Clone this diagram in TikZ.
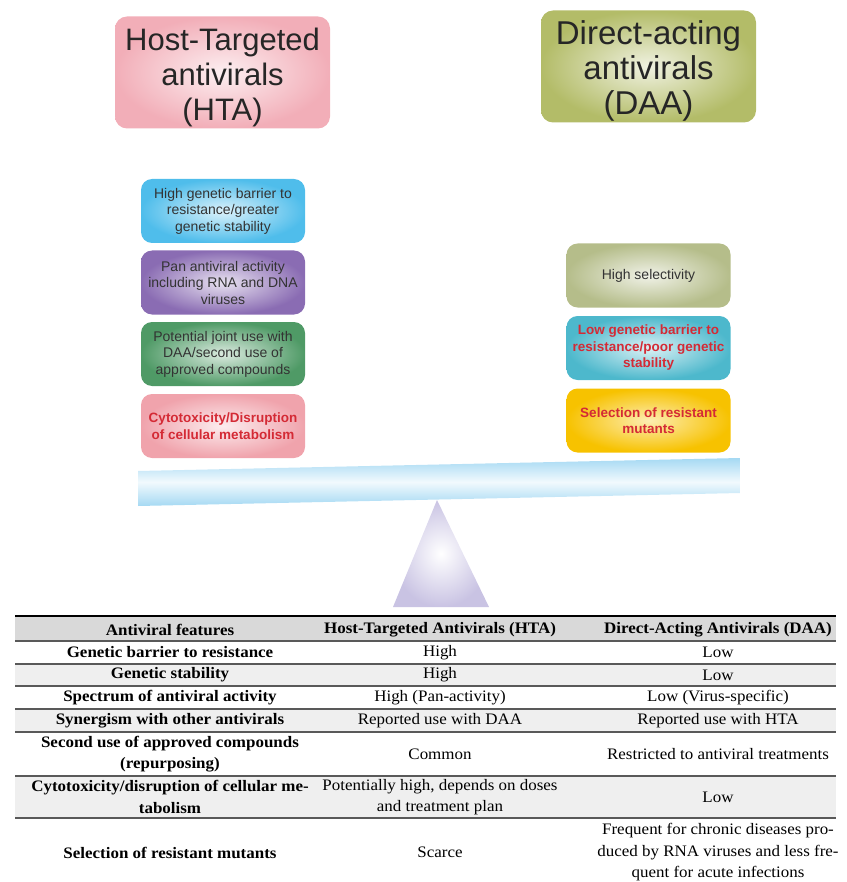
\documentclass[tikz,border=0pt]{standalone}
\usepackage{fontspec}
\setmainfont{Liberation Serif}[FakeStretch=1.06]
\setsansfont{Liberation Sans}
\definecolor{htapink}{HTML}{F2AEB8}
\definecolor{daaolive}{HTML}{B3BC68}
\definecolor{boxblue}{HTML}{4FBDEB}
\definecolor{boxpurple}{HTML}{8A6CB3}
\definecolor{boxgreen}{HTML}{4F9A66}
\definecolor{boxpink}{HTML}{F0A3AC}
\definecolor{boxolive}{HTML}{B5BD8A}
\definecolor{boxteal}{HTML}{4DB8CC}
\definecolor{boxyellow}{HTML}{F7C200}
\definecolor{redtext}{HTML}{D42A35}
\definecolor{beamblue}{HTML}{A5D9F3}
\definecolor{pivotcolor}{HTML}{C9C3E3}
\definecolor{headgray}{HTML}{D9D9D9}
\definecolor{rowgray}{HTML}{EFEFEF}
\tikzset{
    % --- ESTILOS ---
    title_box/.style={rounded corners=12pt, minimum width=215pt, minimum height=112pt},
    title_text/.style={align=center, text=black!85, inner sep=0pt,
                       font=\sffamily\fontsize{31}{35}\selectfont},
    feat_box/.style={rounded corners=11pt, minimum width=164pt, minimum height=64pt,
                     align=center, text=black!80, inner sep=2pt,
                     font=\sffamily\fontsize{14}{16.5}\selectfont},
    red_text/.style={text=redtext, font=\sffamily\bfseries\fontsize{13.5}{16.5}\selectfont},
    % tabla
    cell/.style={align=center, inner sep=0pt, font=\fontsize{16}{21.5}\selectfont},
    head_cell/.style={cell, font=\bfseries\fontsize{16}{21.5}\selectfont},
    top_rule/.style={line width=2.5pt, black},
    row_rule/.style={line width=1.1pt, black!65}
}

\begin{document}
\begin{tikzpicture}[x=1pt,y=-1pt]
    \useasboundingbox (0,0) rectangle (846,882);

    % titulos
    \node[title_box, inner color=htapink!20!white, outer color=htapink] (hta) at (222.5,72.5) {};
    \node[title_text] (hta_text) at ([yshift=-5pt]hta.center) {Host-Targeted\\antivirals\\(HTA)};
    \node[title_box, inner color=daaolive!20!white, outer color=daaolive] (daa) at (648.5,66.5) {};
    \node[title_text, font=\sffamily\fontsize{33}{35}\selectfont] (daa_text) at ([yshift=-4pt]daa.center)
        {Direct-acting\\antivirals\\(DAA)};

    % cajas HTA
    \node[feat_box, inner color=boxblue!20!white, outer color=boxblue] (hta1) at (223,211)
        {High genetic barrier to\\resistance/greater\\genetic stability};
    \node[feat_box, inner color=boxpurple!20!white, outer color=boxpurple] (hta2) at (223,282.5)
        {Pan antiviral activity\\including RNA and DNA\\viruses};
    \node[feat_box, inner color=boxgreen!20!white, outer color=boxgreen] (hta3) at (223,354)
        {Potential joint use with\\DAA/second use of\\approved compounds};
    \node[feat_box, red_text, inner color=boxpink!20!white, outer color=boxpink] (hta4) at (223,426)
        {Cytotoxicity/Disruption\\of cellular metabolism};

    % cajas DAA
    \node[feat_box, inner color=boxolive!20!white, outer color=boxolive] (daa1) at (648.5,275.5)
        {High selectivity};
    \node[feat_box, red_text, inner color=boxteal!20!white, outer color=boxteal] (daa2) at (648.5,348)
        {Low genetic barrier to\\resistance/poor genetic\\stability};
    \node[feat_box, red_text, inner color=boxyellow!30!white, outer color=boxyellow] (daa3) at (648.5,420.5)
        {Selection of resistant\\mutants};

    % balanza
    \shade[inner color=white, outer color=pivotcolor] (437,500) -- (489,607) -- (393,607) -- cycle;
    \shade[top color=beamblue, bottom color=beamblue, middle color=beamblue!15!white]
        (138,471) -- (740,458) -- (740,493) -- (138,506) -- cycle;

    % tabla: fondos
    \fill[headgray] (15,617) rectangle (836,641);
    \fill[rowgray] (15,664) rectangle (836,686);
    \fill[rowgray] (15,709) rectangle (836,732);
    \fill[rowgray] (15,776) rectangle (836,818);

    \draw[top_rule] (15,616) -- (836,616);
    \foreach \y in {641,664,686,709,732,776,818}
        \draw[row_rule] (15,\y) -- (836,\y);

    \node[head_cell] (h1) at (170,630) {Antiviral features};
    \node[head_cell] (h2) at (440,630) {Host-Targeted Antivirals (HTA)};
    \node[head_cell] (h3) at (718,630) {Direct-Acting Antivirals (DAA)};

    \node[head_cell] (r1a) at (170,652.5) {Genetic barrier to resistance};
    \node[cell] (r1b) at (440,652.5) {High};
    \node[cell] (r1c) at (718,652.5) {Low};

    \node[head_cell] (r2a) at (170,675) {Genetic stability};
    \node[cell] (r2b) at (440,675) {High};
    \node[cell] (r2c) at (718,675) {Low};

    \node[head_cell] (r3a) at (170,697.5) {Spectrum of antiviral activity};
    \node[cell] (r3b) at (440,697.5) {High (Pan-activity)};
    \node[cell] (r3c) at (718,697.5) {Low (Virus-specific)};

    \node[head_cell] (r4a) at (170,720.5) {Synergism with other antivirals};
    \node[cell] (r4b) at (440,720.5) {Reported use with DAA};
    \node[cell] (r4c) at (718,720.5) {Reported use with HTA};

    \node[head_cell] (r5a) at (170,754) {Second use of approved compounds\\(repurposing)};
    \node[cell] (r5b) at (440,754) {Common};
    \node[cell] (r5c) at (718,754) {Restricted to antiviral treatments};

    \node[head_cell] (r6a) at (170,797) {Cytotoxicity/disruption of cellular me-\\tabolism};
    \node[cell] (r6b) at (440,797) {Potentially high, depends on doses\\and treatment plan};
    \node[cell] (r6c) at (718,797) {Low};

    \node[head_cell] (r7a) at (170,852.5) {Selection of resistant mutants};
    \node[cell] (r7b) at (440,852.5) {Scarce};
    \node[cell] (r7c) at (718,852.5) {Frequent for chronic diseases pro-\\duced by RNA viruses and less fre-\\quent for acute infections};
\end{tikzpicture}
\end{document}
